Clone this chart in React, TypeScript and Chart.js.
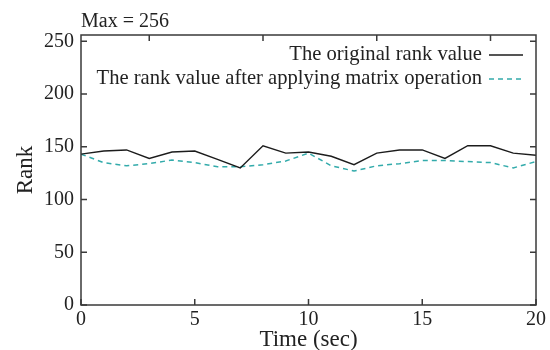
import React, { useEffect, useRef } from "react";
import { Chart, registerables } from "chart.js";

Chart.register(...registerables);

// Sample times (seconds)
const timeSec: number[] = [0, 1, 2, 3, 4, 5, 6, 7, 8, 9, 10, 11, 12, 13, 14, 15, 16, 17, 18, 19, 20];

// Rank of the original matrix at each sample
const originalRank: number[] = [
  143, 146, 147, 139, 145, 146, 138, 130, 151, 144, 145,
  141, 133, 144, 147, 147, 139, 151, 151, 144, 142,
];

// Rank after the matrix operation is applied
const afterOpRank: number[] = [
  143, 135, 132, 134, 137.5, 135, 131, 131, 133, 136.5, 144,
  132, 127, 132, 134, 137, 137, 136, 135, 130, 136,
];

const xTicks: number[] = [0, 5, 10, 15, 20];
const xTopTicks: number[] = [3, 8, 13, 18];
const yTicks: number[] = [0, 50, 100, 150, 200, 250];
const yMax = 256;

const seriesNames: string[] = [
  "The original rank value",
  "The rank value after applying matrix operation",
];
const titleText = "Max = 256";

const SERIF = '"Liberation Serif", "Times New Roman", serif';
const BLACK = "#1c1c1c";
const TEAL = "#33abab";
const FRAME = "#3a3a3a";

// Frame, inward tick marks, legend and heading drawn over the chart
const decorations = {
  id: "decorations",
  afterDraw(chart: any) {
    const { ctx, chartArea, scales } = chart;
    const { left, right, top, bottom } = chartArea;
    const x = scales.x;
    const y = scales.y;
    const tl = 6;
    ctx.save();
    ctx.strokeStyle = FRAME;
    ctx.lineWidth = 1.5;
    ctx.setLineDash([]);
    ctx.strokeRect(left, top, right - left, bottom - top);
    ctx.beginPath();
    for (const v of xTicks) {
      const px = x.getPixelForValue(v);
      ctx.moveTo(px, bottom);
      ctx.lineTo(px, bottom - tl);
    }
    for (const v of xTopTicks) {
      const px = x.getPixelForValue(v);
      ctx.moveTo(px, top);
      ctx.lineTo(px, top + tl);
    }
    for (const v of yTicks) {
      const py = y.getPixelForValue(v);
      ctx.moveTo(left, py);
      ctx.lineTo(left + tl, py);
      ctx.moveTo(right, py);
      ctx.lineTo(right - tl, py);
    }
    ctx.stroke();

    // heading
    ctx.fillStyle = "#222";
    ctx.font = `20px ${SERIF}`;
    ctx.textAlign = "left";
    ctx.textBaseline = "alphabetic";
    ctx.fillText(titleText, left, 27);

    // legend
    const textRight = 482;
    const sx0 = 489;
    const sx1 = 523;
    const rows = [55, 79];
    const colors = [BLACK, TEAL];
    const dashes = [[], [5, 4]];
    ctx.font = `20.6px ${SERIF}`;
    ctx.textAlign = "right";
    ctx.textBaseline = "middle";
    rows.forEach((ry, i) => {
      ctx.fillStyle = "#222";
      ctx.fillText(seriesNames[i], textRight, ry);
      ctx.beginPath();
      ctx.strokeStyle = colors[i];
      ctx.lineWidth = 1.5;
      ctx.setLineDash(dashes[i]);
      ctx.moveTo(sx0, ry);
      ctx.lineTo(sx1, ry);
      ctx.stroke();
    });
    ctx.restore();
  },
};

export default function App() {
  const canvasRef = useRef<HTMLCanvasElement | null>(null);

  useEffect(() => {
    document.body.style.margin = "0";
    const canvas = canvasRef.current;
    if (!canvas) return;
    const chart = new Chart(canvas, {
      type: "line",
      data: {
        datasets: [
          {
            label: seriesNames[0],
            data: timeSec.map((t, i) => ({ x: t, y: originalRank[i] })),
            borderColor: BLACK,
            borderWidth: 1.4,
            pointRadius: 0,
            tension: 0,
          },
          {
            label: seriesNames[1],
            data: timeSec.map((t, i) => ({ x: t, y: afterOpRank[i] })),
            borderColor: TEAL,
            borderWidth: 1.5,
            borderDash: [5, 4],
            pointRadius: 0,
            tension: 0,
          },
        ],
      },
      options: {
        animation: false,
        responsive: false,
        layout: { padding: { top: 35, right: 14, left: 0, bottom: 0 } },
        plugins: {
          legend: { display: false },
          tooltip: { enabled: false },
          title: { display: false },
        },
        scales: {
          x: {
            type: "linear",
            min: 0,
            max: 20,
            afterBuildTicks: (s: any) => {
              s.ticks = xTicks.map((v) => ({ value: v }));
            },
            afterFit: (s: any) => {
              s.height = 45;
            },
            grid: { drawOnChartArea: false, drawTicks: false },
            border: { display: false },
            ticks: {
              color: "#222",
              font: { family: SERIF, size: 20 },
              padding: 3,
              maxRotation: 0,
            },
            title: {
              display: true,
              text: "Time (sec)",
              color: "#222",
              font: { family: SERIF, size: 23, lineHeight: 0.85 },
              padding: { top: 0, bottom: 0 },
            },
          },
          y: {
            type: "linear",
            min: 0,
            max: yMax,
            afterBuildTicks: (s: any) => {
              s.ticks = yTicks.map((v) => ({ value: v }));
            },
            afterFit: (s: any) => {
              s.width = 81;
            },
            grid: { drawOnChartArea: false, drawTicks: false },
            border: { display: false },
            ticks: {
              color: "#222",
              font: { family: SERIF, size: 20 },
              padding: 7,
            },
            title: {
              display: true,
              text: "Rank",
              color: "#222",
              font: { family: SERIF, size: 23 },
              padding: { top: 12, bottom: 0 },
            },
          },
        },
      },
      plugins: [decorations],
    });
    return () => chart.destroy();
  }, []);

  return (
    <div style={{ position: "absolute", left: 0, top: 0, width: 550, height: 350, background: "#fff" }}>
      <canvas ref={canvasRef} width={550} height={350} />
    </div>
  );
}
